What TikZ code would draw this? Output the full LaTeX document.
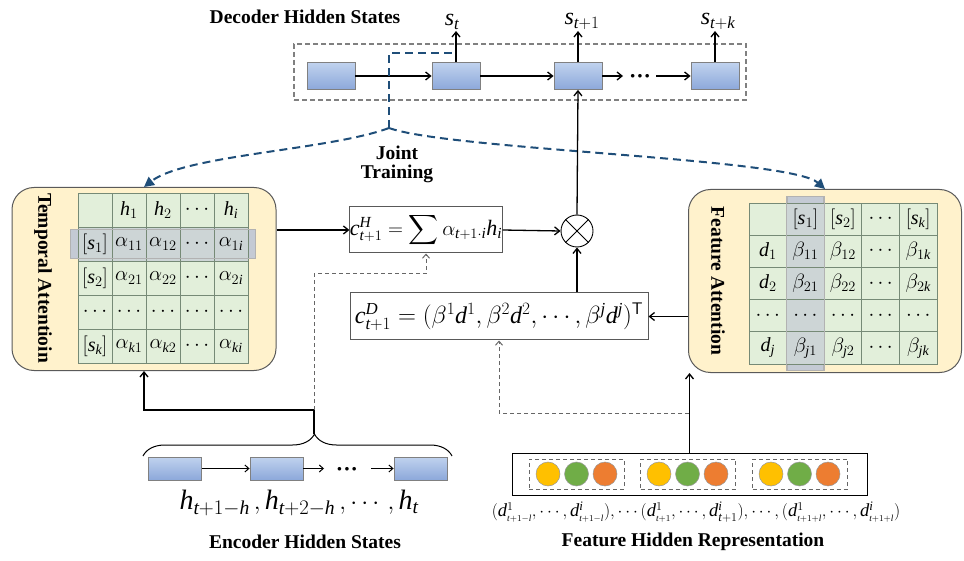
\documentclass[tikz,border=0pt]{standalone}
\usepackage{exscale}
\usepackage{fontspec}
\setmainfont{Liberation Serif}
\DeclareSymbolFont{myit}{TU}{\rmdefault}{m}{it}
\count255=`a
\loop \Umathcode\count255=7 \symmyit \count255 \advance\count255 by 1 \ifnum\count255<`\{ \repeat
\count255=`A
\loop \Umathcode\count255=7 \symmyit \count255 \advance\count255 by 1 \ifnum\count255<`\[ \repeat
\usetikzlibrary{arrows.meta,decorations.pathreplacing,fit,matrix}
\pgfdeclarelayer{back}
\pgfsetlayers{back,main}
\definecolor{blkT}{RGB}{192,210,238}
\definecolor{blkB}{RGB}{140,168,218}
\definecolor{panelF}{RGB}{255,242,204}
\definecolor{panelD}{RGB}{90,90,90}
\definecolor{cellF}{RGB}{226,239,218}
\definecolor{cellD}{RGB}{118,138,118}
\definecolor{jblue}{RGB}{31,78,121}
\definecolor{hlF}{RGB}{196,202,212}
\colorlet{hlmix}{hlF!70!cellF}
\definecolor{cy}{RGB}{255,192,0}
\definecolor{cg}{RGB}{112,173,71}
\definecolor{co}{RGB}{237,125,49}
\newcommand{\myLbl}{\fontsize{19.5}{19}\selectfont\bfseries}
\newcommand{\myTab}{\fontsize{20}{22}\selectfont}
\newcommand{\myEq}{\fontsize{24}{28}\selectfont}
\newcommand{\myEqs}{\fontsize{22}{26}\selectfont}
\newcommand{\myH}{\fontsize{28}{30}\selectfont}
\newcommand{\myD}{\fontsize{18.5}{22}\selectfont}
\begin{document}
\begin{tikzpicture}[x=1pt,y=-1pt,
  blk/.style={draw=gray, line width=0.8pt, top color=blkT, bottom color=blkB, minimum width=48pt, minimum height=27pt, inner sep=0pt},
  eblk/.style={blk, minimum width=53pt, minimum height=23pt},
  arr/.style={line width=1.3pt, -{Straight Barb[length=5pt,width=8pt]}},
  plain/.style={line width=1.3pt},
  dbox/.style={draw=gray, line width=1.2pt, dash pattern=on 5pt off 3pt, inner sep=0pt},
  bdash/.style={draw=jblue, line width=2pt, dash pattern=on 8pt off 5pt},
  barr/.style={bdash, -{Triangle[length=10pt,width=10pt]}},
  gdash/.style={draw=gray!80!black, line width=1pt, dash pattern=on 4pt off 3pt, -{Straight Barb[length=4pt,width=7pt]}},
  panel/.style={draw=panelD, fill=panelF, rounded corners=22pt, line width=1pt, inner sep=0pt},
  tcell/.style={draw=cellD, fill=cellF, line width=0.8pt, inner sep=0pt, anchor=center, font=\myTab},
  hl/.style={draw=gray!60, fill=hlF, line width=0.8pt},
  hlline/.style={draw=gray!60, line width=0.8pt},
  fbox/.style={draw=gray!70!black, line width=1pt, inner sep=0pt, font=\myEq},
  cir/.style={circle, draw=black!40, line width=0.5pt, minimum size=24pt, inner sep=0pt},
  gbox/.style={draw=gray!80!black, line width=0.9pt, dash pattern=on 4pt off 3pt, minimum width=95pt, minimum height=30pt, inner sep=0pt},
  lbl/.style={font=\myLbl, inner sep=1pt},
  dots/.style={font=\fontsize{22}{22}\selectfont\bfseries, inner sep=0pt}
]
\path[use as bounding box] (0,0) rectangle (964,561);

% ---------- decoder ----------
\node[lbl] (dectitle) at (305,17) {Decoder Hidden States};
\node[dbox, minimum width=452pt, minimum height=56pt] (decbox) at (520,72) {};
\node[blk] (d1) at (331,76) {};
\node[blk] (d2) at (456,76) {};
\node[blk] (d3) at (578,76) {};
\node[blk] (d4) at (715,76) {};
\node[dots] (ddots) at (640,79) {···};
\coordinate (dd3) at (623,76);
\coordinate (dd4) at (656,76);
\draw[arr] (d1) -- (d2);
\draw[arr] (d2) -- (d3);
\draw[arr] (d3) -- (dd3);
\draw[arr] (dd4) -- (d4);
\node[font=\myEq, anchor=south, inner sep=1pt] (st) at (452,31) {$s_t$};
\node[font=\myEq, anchor=south, inner sep=1pt] (st1) at (582,31) {$s_{t+1}$};
\node[font=\myEq, anchor=south, inner sep=1pt] (stk) at (718,31) {$s_{t+k}$};
\draw[arr] (d2.north) -- (d2.north |- st.south);
\draw[arr] (d3.north) -- (d3.north |- st1.south);
\draw[arr] (d4.north) -- (d4.north |- stk.south);

% ---------- panels ----------
\begin{pgfonlayer}{back}
\node[panel, minimum width=264pt, minimum height=183pt] (tp) at (144,279) {};
\node[panel, minimum width=273pt, minimum height=183pt] (fp) at (825,281) {};
\end{pgfonlayer}
\node[lbl, rotate=-90] (tpl) at (43,278) {Temporal Attentioin};
\node[lbl, rotate=-90] (fpl) at (718,281) {Feature Attention};

\matrix (ta) [matrix of math nodes, nodes in empty cells, column sep=-0.8pt, row sep=-0.8pt,
  nodes={tcell, minimum width=34pt, minimum height=34pt},
  row 2/.style={nodes={fill=hlmix}}] at (163,278) {
  & h_1 & h_2 & \cdots & h_i \\
  {[s_1]} & \alpha_{11} & \alpha_{12} & \cdots & \alpha_{1i} \\
  {[s_2]} & \alpha_{21} & \alpha_{22} & \cdots & \alpha_{2i} \\
  \cdots & \cdots & \cdots & \cdots & \cdots \\
  {[s_k]} & \alpha_{k1} & \alpha_{k2} & \cdots & \alpha_{ki} \\
};
\matrix (fa) [matrix of math nodes, nodes in empty cells, column sep=-0.8pt, row sep=-0.8pt,
  nodes={tcell, minimum width=37.6pt, minimum height=32.2pt},
  column 2/.style={nodes={fill=hlmix}}] at (843,283.5) {
  & {[s_1]} & {[s_2]} & \cdots & {[s_k]} \\
  d_1 & \beta_{11} & \beta_{12} & \cdots & \beta_{1k} \\
  d_2 & \beta_{21} & \beta_{22} & \cdots & \beta_{2k} \\
  \cdots & \cdots & \cdots & \cdots & \cdots \\
  d_j & \beta_{j1} & \beta_{j2} & \cdots & \beta_{jk} \\
};
\begin{pgfonlayer}{back}
\node[hl, fit=(ta-2-1)(ta-2-5), inner xsep=7pt, inner ysep=-3pt] (hlt) {};
\node[hl, fit=(fa-1-2)(fa-5-2), inner xsep=-1pt, inner ysep=6pt] (hlf) {};
\end{pgfonlayer}
\draw[hlline] (hlt.north west) rectangle (hlt.south east);
\draw[hlline] (hlf.north west) rectangle (hlf.south east);

% ---------- joint training ----------
\coordinate (jt) at (389,128);
\coordinate (jtop) at (389,53);
\draw[bdash] (jt) -- (jtop) -- (jtop -| d2);
\draw[barr] (jt) .. controls (330,150) and (185,155) .. (tp.north);
\draw[barr] (jt) .. controls (450,150) and (790,158) .. (fp.north);
\node[lbl, align=center] (jtl) at (397,164) {Joint\\Training};

% ---------- context boxes ----------
\node[fbox, font=\myEqs, minimum width=152pt, minimum height=46pt] (ch) at (426,230) {$c^{H}_{t+1} = \displaystyle\sum \alpha_{t+1\cdot i} h_i$};
\node[fbox, minimum width=298pt, minimum height=47pt] (cd) at (499,316.5) {$c^{D}_{t+1} = (\beta^1 d^1, \beta^2 d^2, \cdots, \beta^j d^j)^{\mathsf{T}}$};
\node[circle, draw, line width=0.9pt, minimum size=32pt, inner sep=0pt] (ot) at (577,231) {};
\draw[line width=0.9pt] (ot.north east) -- (ot.south west);
\draw[line width=0.9pt] (ot.north west) -- (ot.south east);
\draw[arr] (tp.east |- ch.west) -- (ch.west);
\draw[arr] (ch.east) -- (ot.west);
\draw[arr] (cd.north -| ot.south) -- (ot.south);
\draw[arr] (ot.north) -- (d3.south);
\draw[arr] (fp.west |- cd.east) -- (cd.east);

% ---------- encoder ----------
\node[eblk] (e1) at (175,468.5) {};
\node[eblk] (e2) at (276.5,468.5) {};
\node[eblk] (e3) at (420.5,468.5) {};
\node[dots] (edots) at (347,471.5) {···};
\coordinate (ee2) at (324,468.5);
\coordinate (ee3) at (371,468.5);
\draw[line width=1pt, -{Straight Barb[length=4pt,width=7pt]}] (e1) -- (e2);
\draw[line width=1pt, -{Straight Barb[length=4pt,width=7pt]}] (e2) -- (ee2);
\draw[line width=1pt, -{Straight Barb[length=4pt,width=7pt]}] (ee3) -- (e3);
\coordinate (bl) at (143,456);
\coordinate (br) at (452,456);
\draw[line width=1pt, decorate, decoration={brace, amplitude=22pt, aspect=0.555}] (bl) -- (br);
\coordinate (btip) at (314,434);
\coordinate (encj) at (314,410);
\draw[plain] (btip) -- (encj);
\draw[arr] (encj) -| (tp.south);
\coordinate (chk) at (426,274);
\draw[gdash] (encj) |- (chk) -- (ch.south);
\node[font=\myH] (hlab) at (299,503) {$h_{t+1-h}\,, h_{t+2-h}\,, \cdots\,, h_t$};
\node[lbl] (encl) at (305,542) {Encoder Hidden States};

% ---------- feature representation ----------
\node[draw, line width=1pt, minimum width=355pt, minimum height=42pt, inner sep=0pt] (frb) at (689.5,474) {};
\node[gbox] (fg1) at (576.5,474) {};
\node[gbox] (fg2) at (688,474) {};
\node[gbox] (fg3) at (800,474) {};
\foreach \i/\x in {1/548,2/659,3/771} {
  \node[cir, fill=cy] (cy\i) at (\x,474) {};
  \node[cir, fill=cg] (cg\i) at (\x+28.5,474) {};
  \node[cir, fill=co] (co\i) at (\x+57,474) {};
}
\coordinate (fj) at (689,413);
\draw[arr] (frb.north) -- (frb.north |- fp.south);
\draw[gdash] (fj) -| (cd.south);
\node[font=\myD] (flab) at (696,512) {$(d^{1}_{\scriptscriptstyle t+1-l},\cdots,d^{i}_{\scriptscriptstyle t+1-l}),\cdots(d^{1}_{\scriptscriptstyle t+1},\cdots,d^{i}_{t+1}),\cdots,(d^{1}_{\scriptscriptstyle t+1+l},\cdots,d^{i}_{\scriptscriptstyle t+1+l})$};
\node[lbl] (featl) at (693,542) {Feature Hidden Representation};
\end{tikzpicture}
\end{document}
